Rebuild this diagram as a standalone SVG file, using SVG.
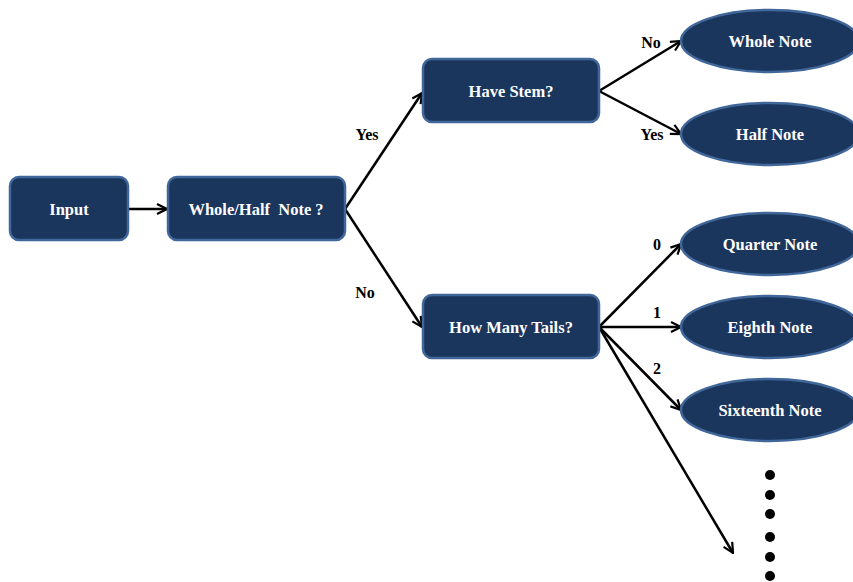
<svg xmlns="http://www.w3.org/2000/svg" width="853" height="582" viewBox="0 0 853 582">
<style>
.box{fill:#1b365d;stroke:#41679a;stroke-width:2.5}
.nt{font-family:"Liberation Serif",serif;font-weight:bold;font-size:16.5px;fill:#ffffff;text-anchor:middle;dominant-baseline:central}
.lb{font-family:"Liberation Serif",serif;font-weight:bold;font-size:16px;fill:#000;text-anchor:middle;dominant-baseline:central}
.ln{stroke:#000;stroke-width:2.5;fill:none;marker-end:url(#ah)}
</style>
<defs>
<marker id="ah" viewBox="0 0 12 12" refX="11" refY="6" markerWidth="12" markerHeight="12" markerUnits="userSpaceOnUse" orient="auto">
<path d="M1,1 L11,6 L1,11" fill="none" stroke="#000" stroke-width="2.2"/>
</marker>
</defs>
<g id="connectors">
<line class="ln" x1="128" y1="209" x2="167" y2="209"/>
<line class="ln" x1="345" y1="209" x2="422" y2="93"/>
<line class="ln" x1="345" y1="209" x2="422" y2="327"/>
<line class="ln" x1="599" y1="91" x2="681" y2="41"/>
<line class="ln" x1="599" y1="91" x2="681" y2="134"/>
<line class="ln" x1="599" y1="327" x2="681" y2="244"/>
<line class="ln" x1="599" y1="327" x2="681" y2="327"/>
<line class="ln" x1="599" y1="327" x2="681" y2="410"/>
<line class="ln" x1="599" y1="327" x2="733" y2="553"/>
<text class="lb" x="367" y="134">Yes</text>
<text class="lb" x="365" y="292">No</text>
<text class="lb" x="651" y="42">No</text>
<text class="lb" x="652" y="134">Yes</text>
<text class="lb" x="657" y="244">0</text>
<text class="lb" x="657" y="312">1</text>
<text class="lb" x="657" y="368">2</text>
</g>
<g id="input"><rect class="box" x="10" y="177" width="118" height="63" rx="9"/><text class="nt" x="69" y="209">Input</text></g>
<g id="wholehalf"><rect class="box" x="168" y="177" width="177" height="63" rx="9"/><text class="nt" x="256" y="209" xml:space="preserve">Whole/Half  Note ?</text></g>
<g id="havestem"><rect class="box" x="423" y="59" width="176" height="63" rx="9"/><text class="nt" x="511" y="91">Have Stem?</text></g>
<g id="tails"><rect class="box" x="423" y="295" width="176" height="63" rx="9"/><text class="nt" x="511" y="327">How Many Tails?</text></g>
<g id="whole"><ellipse class="box" cx="770" cy="41" rx="89" ry="31"/><text class="nt" x="770" y="41">Whole Note</text></g>
<g id="half"><ellipse class="box" cx="770" cy="134" rx="89" ry="31"/><text class="nt" x="770" y="134">Half Note</text></g>
<g id="quarter"><ellipse class="box" cx="770" cy="244" rx="89" ry="31"/><text class="nt" x="770" y="244">Quarter Note</text></g>
<g id="eighth"><ellipse class="box" cx="770" cy="327" rx="89" ry="31"/><text class="nt" x="770" y="327">Eighth Note</text></g>
<g id="sixteenth"><ellipse class="box" cx="770" cy="410" rx="89" ry="31"/><text class="nt" x="770" y="410">Sixteenth Note</text></g>
<g id="dots" fill="#000">
<circle cx="770" cy="475" r="5"/>
<circle cx="770" cy="495" r="5"/>
<circle cx="770" cy="514" r="5"/>
<circle cx="770" cy="537" r="5"/>
<circle cx="770" cy="557" r="5"/>
<circle cx="770" cy="576" r="5"/>
</g>
</svg>
